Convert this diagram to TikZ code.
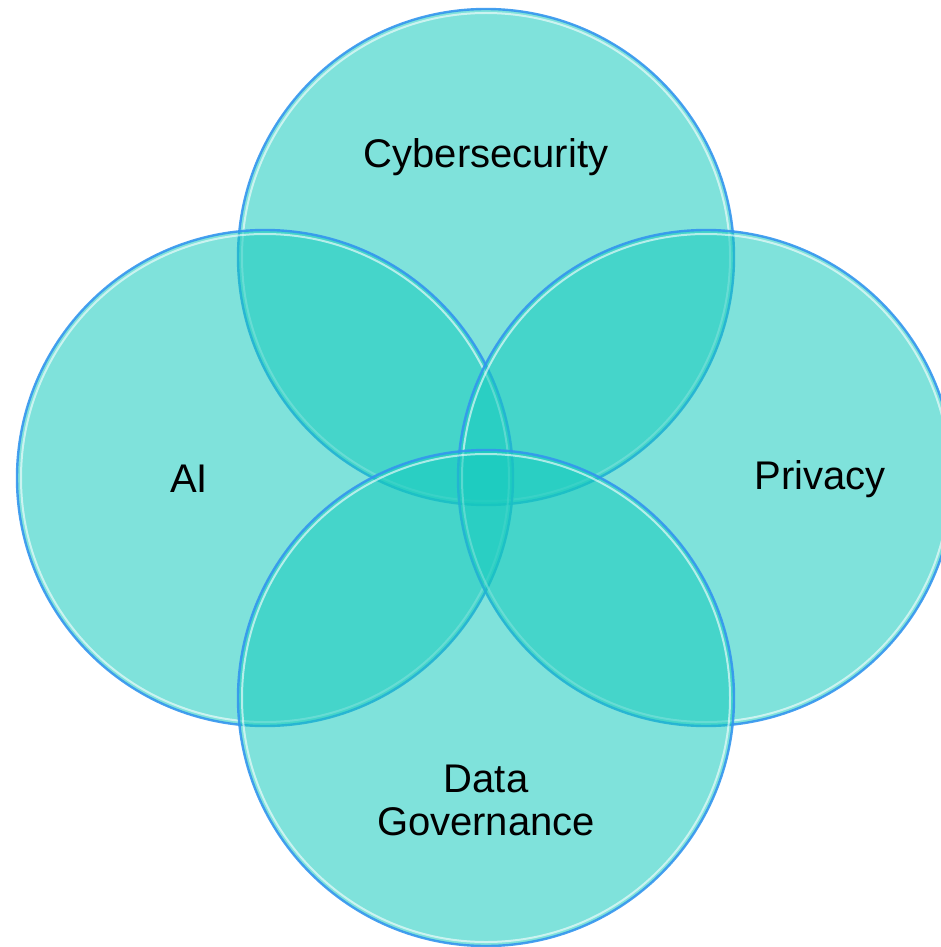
\documentclass[tikz,border=0pt]{standalone}
\usepackage{fontspec}
\setmainfont{Liberation Sans}
\definecolor{venn}{RGB}{21,202,189}
\definecolor{rim}{RGB}{52,150,238}
\begin{document}
\begin{tikzpicture}[x=1pt,y=-1pt,
  vcircle/.style={circle, minimum size=496pt, inner sep=0pt, fill=venn, fill opacity=0.55, draw=rim, line width=2.4pt, draw opacity=0.9},
  glow/.style={draw=white, line width=2pt, draw opacity=0.6},
  lbl/.style={font=\fontsize{40}{43}\selectfont, text=black, align=center}]
\useasboundingbox (0,0) rectangle (940,947);
\node[vcircle] (cyber) at (486,257) {};
\draw[glow] (486,257) circle (244);
\node[vcircle] (ai) at (265,478) {};
\draw[glow] (265,478) circle (244);
\node[vcircle] (priv) at (706,478) {};
\draw[glow] (706,478) circle (244);
\node[vcircle] (data) at (486,698) {};
\draw[glow] (486,698) circle (244);
\node[lbl] (tc) at (486,157) {Cybersecurity};
\node[lbl] (ta) at (189,479) {AI};
\node[lbl] (tp) at (820,479) {Privacy};
\node[lbl] (td) at (486,800) {Data\\Governance};
\end{tikzpicture}
\end{document}
